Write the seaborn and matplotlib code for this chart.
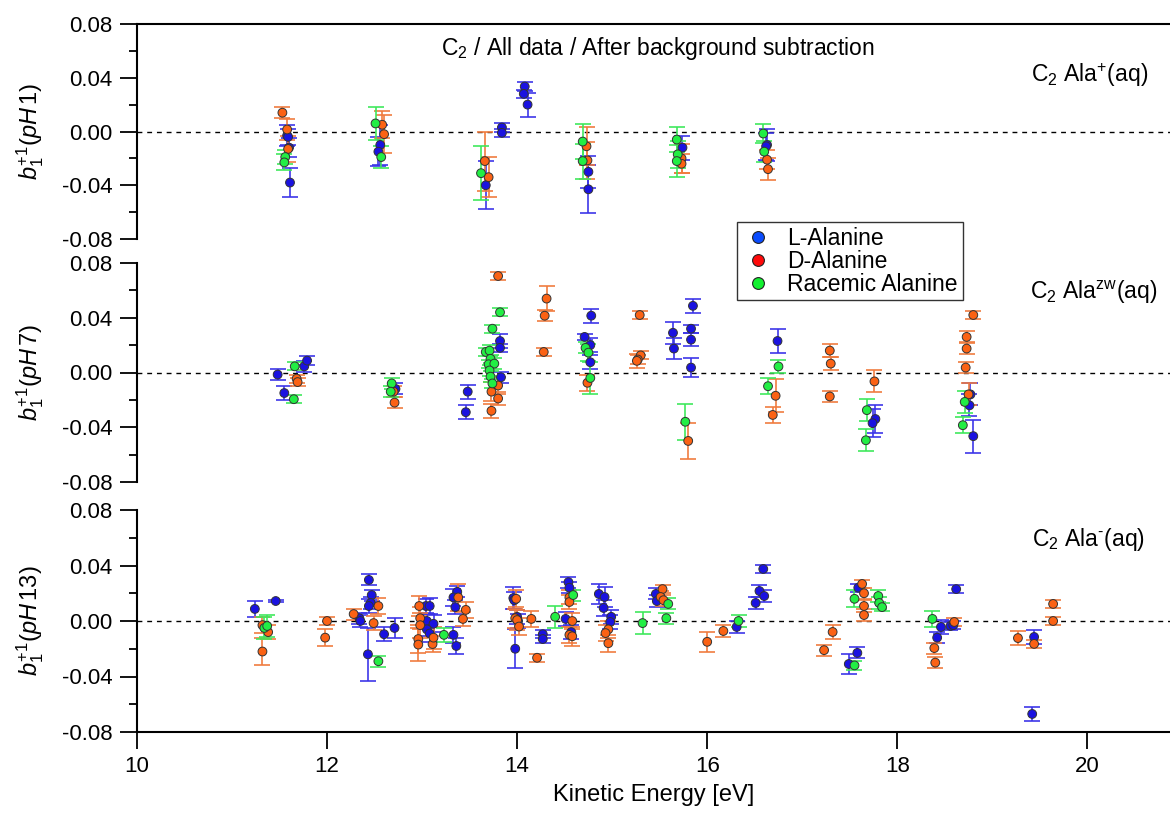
import numpy as np
import pandas as pd
import seaborn as sns
import matplotlib.pyplot as plt
from matplotlib.lines import Line2D
from matplotlib.ticker import MultipleLocator, FormatStrFormatter

# ---- pH 1 (Ala+) ----
ph1_l_energy = [11.58, 11.59, 11.60, 11.61, 12.56, 12.54, 13.67, 13.84, 13.84, 14.08, 14.07, 14.11, 14.75, 14.75, 15.74, 16.63, 16.62]
ph1_l_value = [-0.003, -0.004, -0.012, -0.038, -0.010, -0.015, -0.040, 0.003, -0.001, 0.0335, 0.028, 0.020, -0.030, -0.043, -0.012, -0.010, -0.011]
ph1_l_err = [0.008, 0.006, 0.007, 0.011, 0.015, 0.011, 0.018, 0.003, 0.003, 0.003, 0.003, 0.009, 0.012, 0.018, 0.009, 0.012, 0.010]

ph1_d_energy = [11.53, 11.58, 11.59, 12.58, 12.60, 13.66, 13.70, 14.73, 14.74, 15.73, 15.73, 16.63, 16.64]
ph1_d_value = [0.014, 0.0015, -0.013, 0.005, -0.002, -0.022, -0.034, -0.011, -0.0215, -0.020, -0.024, -0.021, -0.028]
ph1_d_err = [0.004, 0.008, 0.010, 0.010, 0.014, 0.022, 0.015, 0.014, 0.014, 0.011, 0.007, 0.007, 0.008]

ph1_r_energy = [11.56, 11.55, 12.51, 12.57, 13.62, 14.69, 14.69, 15.68, 15.69, 15.68, 16.59, 16.60]
ph1_r_value = [-0.019, -0.023, 0.006, -0.019, -0.031, -0.0075, -0.022, -0.006, -0.017, -0.022, -0.0015, -0.015]
ph1_r_err = [0.005, 0.006, 0.012, 0.008, 0.020, 0.013, 0.013, 0.009, 0.010, 0.012, 0.007, 0.008]

# ---- pH 7 (Ala zw) ----
ph7_l_energy = [11.48, 11.55, 11.76, 11.79, 12.72, 13.48, 13.46, 13.82, 13.82, 13.83, 14.78, 14.71, 14.77, 14.77,
                15.64, 15.65, 15.85, 15.83, 15.83, 15.83, 16.74, 17.77, 17.74, 18.77, 18.76, 18.80]
ph7_l_value = [-0.0015, -0.015, 0.0045, 0.0087, -0.012, -0.014, -0.029, 0.023, 0.018, -0.0035, 0.0415, 0.026, 0.020, 0.0075,
               0.029, 0.0175, 0.0487, 0.032, 0.024, 0.0036, 0.023, -0.034, -0.037, -0.016, -0.024, -0.0465]
ph7_l_err = [0.004, 0.005, 0.004, 0.003, 0.004, 0.005, 0.005, 0.005, 0.003, 0.004, 0.005, 0.002, 0.005, 0.005,
             0.008, 0.008, 0.005, 0.003, 0.005, 0.007, 0.009, 0.010, 0.010, 0.008, 0.008, 0.012]

ph7_d_energy = [11.68, 11.69, 12.70, 12.71, 13.80, 13.80, 13.73, 13.80, 13.73, 14.31, 14.29, 14.28, 14.74, 15.29, 15.30,
                15.27, 15.26, 15.80, 16.72, 16.69, 17.29, 17.30, 17.29, 17.76, 18.80, 18.73, 18.73, 18.72, 18.75]
ph7_d_value = [-0.0045, -0.007, -0.014, -0.022, 0.0705, -0.0095, -0.014, -0.019, -0.028, 0.054, 0.0415, 0.015, -0.0075, 0.042, 0.0125,
               0.0095, 0.0085, -0.050, -0.017, -0.031, 0.016, 0.0065, -0.0175, -0.0065, 0.042, 0.026, 0.0175, 0.0036, -0.016]
ph7_d_err = [0.003, 0.003, 0.004, 0.004, 0.003, 0.006, 0.007, 0.005, 0.005, 0.009, 0.004, 0.003, 0.006, 0.003, 0.003,
             0.003, 0.005, 0.013, 0.012, 0.006, 0.005, 0.005, 0.004, 0.008, 0.003, 0.004, 0.004, 0.004, 0.008]

ph7_r_energy = [11.66, 11.65, 12.68, 12.67, 13.82, 13.74, 13.67, 13.71, 13.72, 13.70, 13.76, 13.71, 13.72, 13.74,
                14.72, 14.75, 14.77, 15.77, 16.75, 16.64, 17.68, 17.67, 18.71, 18.69]
ph7_r_value = [0.0045, -0.0195, -0.008, -0.014, 0.044, 0.032, 0.015, 0.016, 0.010, 0.006, 0.0065, 0.0015, -0.003, -0.008,
               0.018, 0.0145, -0.004, -0.036, 0.0044, -0.010, -0.0275, -0.0495, -0.0215, -0.0385]
ph7_r_err = [0.003, 0.003, 0.004, 0.004, 0.003, 0.003, 0.003, 0.004, 0.003, 0.003, 0.004, 0.004, 0.004, 0.003,
             0.004, 0.006, 0.012, 0.013, 0.005, 0.006, 0.008, 0.008, 0.008, 0.006]

# ---- pH 13 (Ala-) ----
ph13_l_energy = [11.24, 11.46, 12.34, 12.35, 12.44, 12.47, 12.46, 12.44, 12.43, 12.60, 12.71, 13.04, 13.08, 13.05, 13.12,
                 13.05, 13.08, 13.33, 13.36, 13.37, 13.33, 13.35, 13.96, 13.97, 14.00, 14.01, 13.98, 14.27, 14.27, 14.54,
                 14.55, 14.51, 14.57, 14.86, 14.92, 14.91, 14.99, 14.98, 15.46, 15.47, 16.31, 16.51, 16.55, 16.60, 16.59,
                 17.49, 17.58, 17.59, 18.42, 18.46, 18.56, 18.59, 18.62, 19.44, 19.42]
ph13_l_value = [0.0087, 0.0144, 0.002, 0.0, 0.0296, 0.0187, 0.013, 0.0108, -0.024, -0.0095, -0.005, 0.0108, 0.0108, 0.0, -0.002,
                -0.006, -0.009, -0.010, -0.018, 0.021, 0.017, 0.010, 0.0165, 0.015, 0.003, 0.0, -0.020, -0.0095, -0.013, 0.028,
                0.024, 0.0015, -0.008, 0.0195, 0.0173, 0.0094, 0.003, -0.0007, 0.0195, 0.0144, -0.0043, 0.013, 0.0216, 0.018, 0.0375,
                -0.031, -0.023, 0.024, -0.012, -0.0043, -0.0036, -0.003, 0.023, -0.0115, -0.067]
ph13_l_err = [0.006, 0.001, 0.004, 0.004, 0.004, 0.004, 0.004, 0.005, 0.019, 0.005, 0.007, 0.005, 0.006, 0.005, 0.006,
              0.005, 0.006, 0.006, 0.006, 0.004, 0.006, 0.005, 0.008, 0.006, 0.005, 0.005, 0.014, 0.003, 0.003, 0.004,
              0.004, 0.005, 0.005, 0.007, 0.007, 0.006, 0.005, 0.005, 0.004, 0.004, 0.004, 0.004, 0.004, 0.004, 0.003,
              0.007, 0.004, 0.003, 0.004, 0.005, 0.003, 0.003, 0.003, 0.005, 0.005]

ph13_d_energy = [11.32, 11.38, 11.32, 12.00, 11.98, 12.28, 12.54, 12.49, 12.97, 12.98, 12.98, 12.96, 12.96, 13.11, 13.12,
                 13.38, 13.46, 13.43, 13.99, 13.98, 14.00, 14.02, 14.15, 14.21, 14.55, 14.55, 14.58, 14.55, 14.58, 14.96,
                 14.93, 14.96, 15.53, 15.51, 15.54, 16.00, 16.17, 17.32, 17.23, 17.63, 17.65, 17.65, 17.65, 18.39, 18.40,
                 18.60, 19.27, 19.44, 19.64, 19.64]
ph13_d_value = [-0.003, -0.008, -0.022, 0.0, -0.012, 0.005, 0.0108, -0.0015, 0.0108, 0.002, -0.003, -0.013, -0.017, -0.0166, -0.012,
                0.017, 0.008, 0.0015, 0.016, 0.002, 0.0007, -0.004, 0.0015, -0.0265, 0.017, 0.0137, 0.0, -0.010, -0.011, -0.006,
                -0.0087, -0.016, 0.023, 0.0173, 0.015, -0.015, -0.0072, -0.0079, -0.021, 0.0267, 0.020, 0.0108, 0.0043, -0.0195, -0.030,
                -0.0007, -0.0123, -0.0165, 0.0123, 0.0]
ph13_d_err = [0.006, 0.005, 0.010, 0.003, 0.006, 0.004, 0.006, 0.005, 0.007, 0.008, 0.009, 0.010, 0.012, 0.006, 0.008,
              0.010, 0.006, 0.005, 0.006, 0.007, 0.007, 0.006, 0.006, 0.003, 0.005, 0.005, 0.006, 0.006, 0.007, 0.006,
              0.006, 0.006, 0.003, 0.004, 0.004, 0.007, 0.004, 0.005, 0.004, 0.003, 0.004, 0.004, 0.004, 0.004, 0.004,
              0.003, 0.005, 0.003, 0.003, 0.003]

ph13_r_energy = [11.34, 11.37, 12.54, 13.23, 14.40, 14.59, 15.32, 15.59, 15.57, 16.33, 17.55, 17.55, 17.80, 17.81, 17.84, 18.37]
ph13_r_value = [-0.005, -0.0036, -0.029, -0.010, 0.003, 0.0187, -0.0015, 0.0123, 0.002, 0.0, 0.016, -0.032, 0.018, 0.013, 0.010, 0.0015]
ph13_r_err = [0.008, 0.008, 0.004, 0.005, 0.008, 0.004, 0.008, 0.004, 0.004, 0.004, 0.006, 0.003, 0.004, 0.004, 0.003, 0.006]

isomers = ["L-Alanine", "D-Alanine", "Racemic Alanine"]
panel_names = ["pH1", "pH7", "pH13"]


def make_frame():
    rows = []
    table = {
        "pH1": [(ph1_l_energy, ph1_l_value, ph1_l_err), (ph1_d_energy, ph1_d_value, ph1_d_err), (ph1_r_energy, ph1_r_value, ph1_r_err)],
        "pH7": [(ph7_l_energy, ph7_l_value, ph7_l_err), (ph7_d_energy, ph7_d_value, ph7_d_err), (ph7_r_energy, ph7_r_value, ph7_r_err)],
        "pH13": [(ph13_l_energy, ph13_l_value, ph13_l_err), (ph13_d_energy, ph13_d_value, ph13_d_err), (ph13_r_energy, ph13_r_value, ph13_r_err)],
    }
    for panel, series in table.items():
        for iso, (e, v, s) in zip(isomers, series):
            rows.append(pd.DataFrame({"panel": panel, "isomer": iso, "energy": e, "value": v, "err": s}))
    return pd.concat(rows, ignore_index=True)


df = make_frame()

point_colors = {"L-Alanine": "#1a12e0", "D-Alanine": "#fb6214", "Racemic Alanine": "#22ee44"}
bar_colors = {"L-Alanine": "#3a32e8", "D-Alanine": "#f07a3c", "Racemic Alanine": "#3ce85a"}
legend_colors = {"L-Alanine": "#0a4cff", "D-Alanine": "#ff0a0a", "Racemic Alanine": "#12f030"}

sns.set_theme(style="ticks")
plt.rcParams["font.family"] = ["Liberation Sans", "DejaVu Sans"]
plt.rcParams["mathtext.fontset"] = "custom"
plt.rcParams["mathtext.rm"] = "Liberation Sans"
plt.rcParams["mathtext.it"] = "Liberation Sans:italic"
plt.rcParams["axes.unicode_minus"] = False
for key in ["text.color", "axes.labelcolor", "xtick.color", "ytick.color", "axes.edgecolor"]:
    plt.rcParams[key] = "black"

fig = plt.figure(figsize=(11.7, 8.18), dpi=100)
left, width = 137 / 1170, 1033 / 1170
boxes = [(24, 239), (263, 482), (510, 732)]
ylabels = [r"$b_1^{+1}(pH\,1)$", r"$b_1^{+1}(pH\,7)$", r"$b_1^{+1}(pH\,13)$"]
tags = [(r"C$_2$ Ala$^{+}$(aq)", 0.979, 0.763),
        (r"C$_2$ Ala$^{\mathrm{zw}}$(aq)", 0.988, 0.868),
        (r"C$_2$ Ala$^{\text{-}}$(aq)", 0.976, 0.865)]

axes = []
for i, (top, bot) in enumerate(boxes):
    ax = fig.add_axes([left, 1 - bot / 818, width, (bot - top) / 818])
    axes.append(ax)
    sub = df[df["panel"] == panel_names[i]]

    ax.axhline(0, color="black", linestyle=(0, (3.5, 3.5)), linewidth=1.0, zorder=1)
    for iso in isomers:
        s = sub[sub["isomer"] == iso]
        ax.errorbar(s["energy"], s["value"], yerr=s["err"], fmt="none", ecolor=bar_colors[iso],
                    elinewidth=1.3, capsize=6, capthick=1.3, alpha=0.9, zorder=2)
    sns.scatterplot(data=sub, x="energy", y="value", hue="isomer", hue_order=isomers,
                    palette=point_colors, s=40, edgecolor="#333333", linewidth=0.7,
                    legend=False, ax=ax, zorder=3)

    ax.set_xlim(10, 20.87)
    ax.set_ylim(-0.08, 0.08)
    ax.yaxis.set_major_locator(MultipleLocator(0.04))
    ax.yaxis.set_minor_locator(MultipleLocator(0.02))
    ax.yaxis.set_major_formatter(FormatStrFormatter("%.2f"))
    ax.tick_params(axis="y", which="major", direction="out", length=12.5, width=1.3, labelsize=16, pad=5)
    ax.tick_params(axis="y", which="minor", direction="out", length=6, width=1.3)
    ax.set_ylabel(ylabels[i], fontsize=17)
    ax.yaxis.set_label_coords(-0.088, 0.5)
    ax.spines["right"].set_visible(False)
    ax.spines["left"].set_linewidth(1.5)
    ax.spines["top"].set_visible(i == 0)
    ax.spines["top"].set_linewidth(1.5)
    ax.spines["bottom"].set_visible(i == 2)
    ax.spines["bottom"].set_linewidth(1.5)
    ax.text(tags[i][1], tags[i][2], tags[i][0], transform=ax.transAxes, ha="right", va="center", fontsize=16.5)

    if i < 2:
        ax.set_xticks([])
        ax.set_xlabel("")
    else:
        ax.set_xticks(np.arange(10, 21, 2))
        ax.xaxis.set_major_formatter(FormatStrFormatter("%d"))
        ax.tick_params(axis="x", direction="out", length=12.5, width=1.3, labelsize=16, pad=5)
        ax.set_xlabel("Kinetic Energy [eV]", fontsize=17, labelpad=5)

axes[0].text(0.504, 0.888, r"C$_2$ / All data / After background subtraction", transform=axes[0].transAxes,
             ha="center", va="center", fontsize=16.5)

handles = [Line2D([], [], linestyle="none", marker="o", markersize=8.5, markerfacecolor=legend_colors[iso],
                  markeredgecolor="#222222", markeredgewidth=0.8) for iso in isomers]
leg = fig.legend(handles, isomers, loc="upper left", bbox_to_anchor=(737 / 1170, 1 - 222 / 818),
                 frameon=True, fancybox=False, edgecolor="black", fontsize=16.5, handletextpad=0.6,
                 borderpad=0.2, labelspacing=0.0, handlelength=1.4, borderaxespad=0)
leg.get_frame().set_linewidth(1.0)
leg.set_zorder(10)

fig.savefig("out.png", dpi=100)
